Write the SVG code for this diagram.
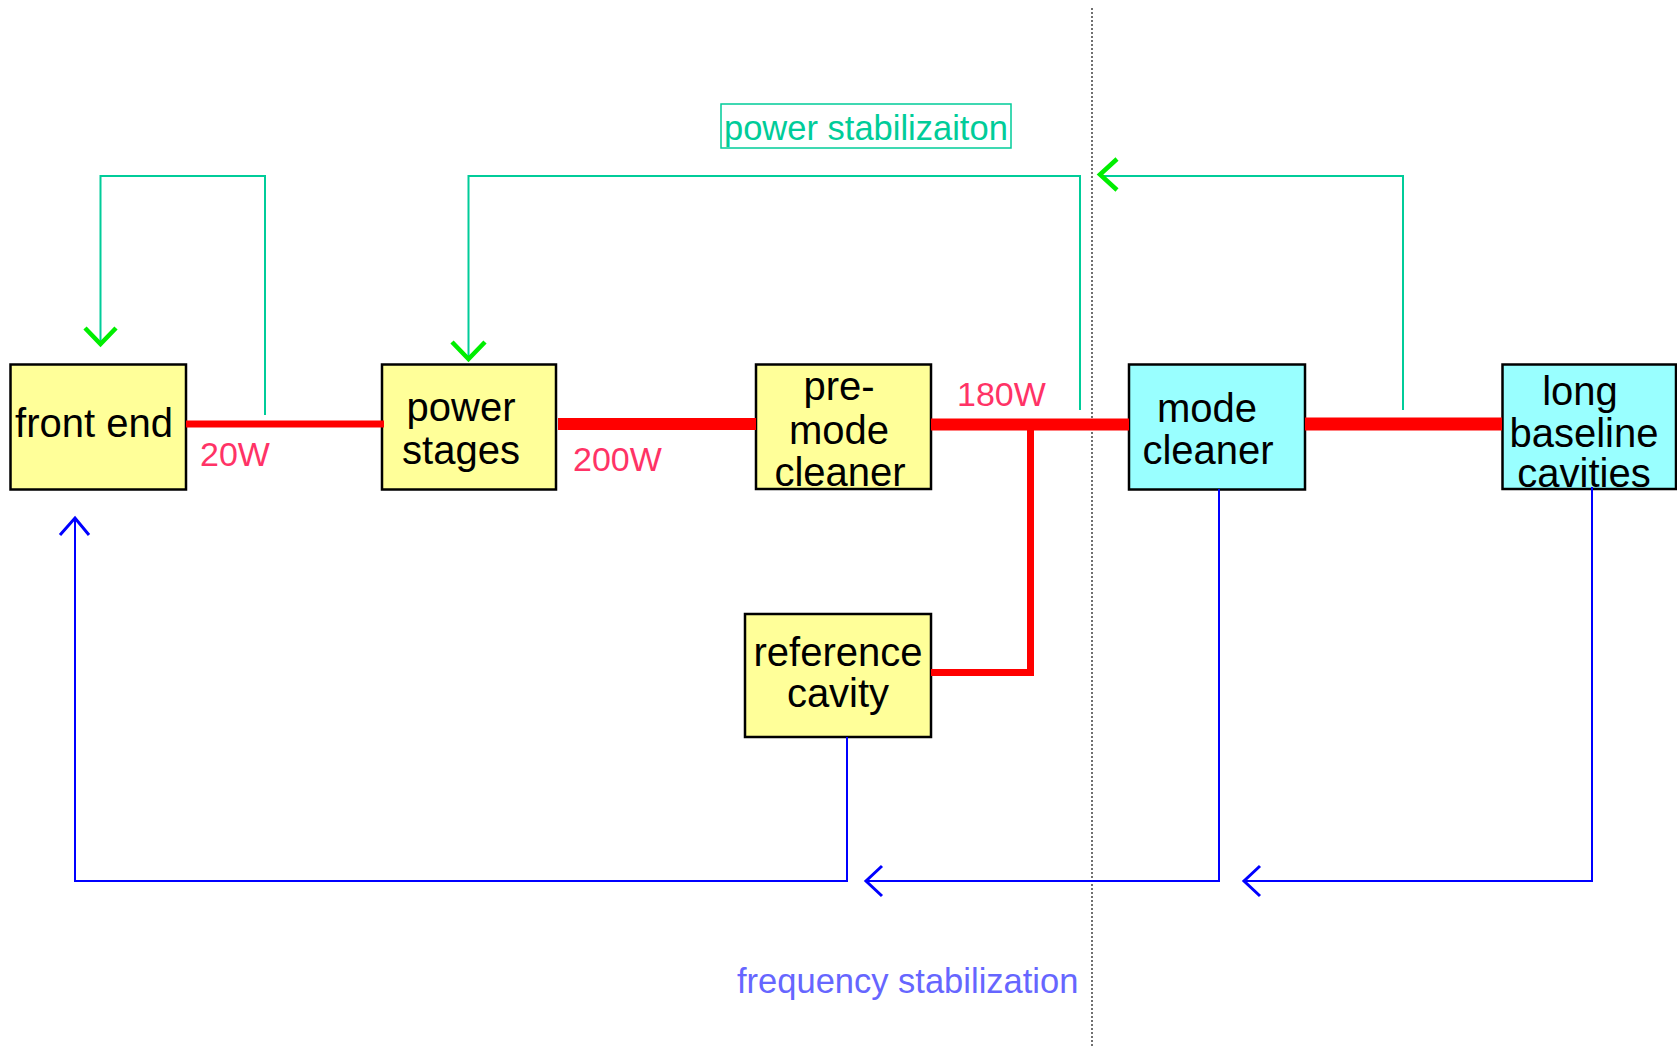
<svg xmlns="http://www.w3.org/2000/svg" width="1677" height="1046" viewBox="0 0 1677 1046">
<style>
.box{stroke:#000;stroke-width:2.5}
.y{fill:#ffff99}
.c{fill:#99ffff}
.t{font-family:"Liberation Sans",Arial,sans-serif;font-size:40px;fill:#000;text-anchor:middle}
.w{font-family:"Liberation Sans",Arial,sans-serif;font-size:34px;fill:#ff3366}
.red{stroke:#ff0000;fill:none}
.teal{stroke:#00cc99;stroke-width:2;fill:none}
.grn{stroke:#00ee00;stroke-width:4.5;fill:none}
.blue{stroke:#0000ff;stroke-width:2;fill:none}
.bch{stroke:#0000ff;stroke-width:3;fill:none}
</style>
<rect width="1677" height="1046" fill="#fff"/>
<line x1="1092" y1="8" x2="1092" y2="1046" stroke="#111" stroke-width="1.2" stroke-dasharray="2 2"/>
<g id="front-end">
<rect class="box y" x="10.5" y="364.5" width="175.5" height="125"/>
<text class="t" x="94" y="437">front end</text>
</g>
<g id="power-stages">
<rect class="box y" x="382" y="364.5" width="174" height="125"/>
<text class="t" x="461" y="421">power</text>
<text class="t" x="461" y="464">stages</text>
</g>
<g id="pre-mode-cleaner">
<rect class="box y" x="756" y="364.5" width="175" height="124.5"/>
<text class="t" x="839" y="400">pre-</text>
<text class="t" x="839" y="444">mode</text>
<text class="t" x="840" y="486">cleaner</text>
</g>
<g id="reference-cavity">
<rect class="box y" x="745" y="614" width="186" height="123"/>
<text class="t" x="838" y="666">reference</text>
<text class="t" x="838" y="707">cavity</text>
</g>
<g id="mode-cleaner">
<rect class="box c" x="1129" y="364.5" width="176" height="125"/>
<text class="t" x="1207" y="422">mode</text>
<text class="t" x="1208" y="464">cleaner</text>
</g>
<g id="long-baseline-cavities">
<rect class="box c" x="1502.5" y="364.5" width="173.5" height="124.5"/>
<text class="t" x="1580" y="405">long</text>
<text class="t" x="1584" y="447">baseline</text>
<text class="t" x="1584" y="487">cavities</text>
</g>
<g id="power-stabilization-label">
<rect x="721" y="104" width="290" height="44" fill="none" stroke="#00cc99" stroke-width="1.5"/>
<text x="724" y="140" font-family="Liberation Sans, Arial, sans-serif" font-size="34.5" fill="#00cc99">power stabilizaiton</text>
</g>
<g id="frequency-stabilization-label">
<text x="737" y="993" font-family="Liberation Sans, Arial, sans-serif" font-size="34.5" fill="#6666ff">frequency stabilization</text>
</g>
<g id="connectors">
<line class="red" x1="186" y1="424" x2="384" y2="424" stroke-width="7"/>
<line class="red" x1="558" y1="424" x2="756" y2="424" stroke-width="12"/>
<line class="red" x1="931" y1="424.5" x2="1129" y2="424.5" stroke-width="12"/>
<polyline class="red" points="1030.5,424 1030.5,672.5 931,672.5" stroke-width="7"/>
<line class="red" x1="1305" y1="424" x2="1502" y2="424" stroke-width="13"/>
<text class="w" x="200" y="466">20W</text>
<text class="w" x="573" y="471">200W</text>
<text class="w" x="957" y="406">180W</text>
<polyline class="teal" points="265,415 265,176 100.5,176 100.5,343"/>
<polyline class="grn" points="85,328 100.5,344 116,328"/>
<polyline class="teal" points="1080,410 1080,176 468.5,176 468.5,358"/>
<polyline class="grn" points="452,342 468.5,359 485,342"/>
<polyline class="teal" points="1403,410 1403,176 1101,176"/>
<polyline class="grn" points="1117,159 1100,174.5 1117,190"/>
<polyline class="blue" points="847,737 847,881 75,881 75,519"/>
<polyline class="bch" points="60,535 75,518 89,535"/>
<polyline class="blue" points="1219,489 1219,881 867,881"/>
<polyline class="bch" points="882,866 866,881 882,896"/>
<polyline class="blue" points="1592,487 1592,881 1245,881"/>
<polyline class="bch" points="1260,866 1244,881 1260,896"/>
</g>
</svg>
